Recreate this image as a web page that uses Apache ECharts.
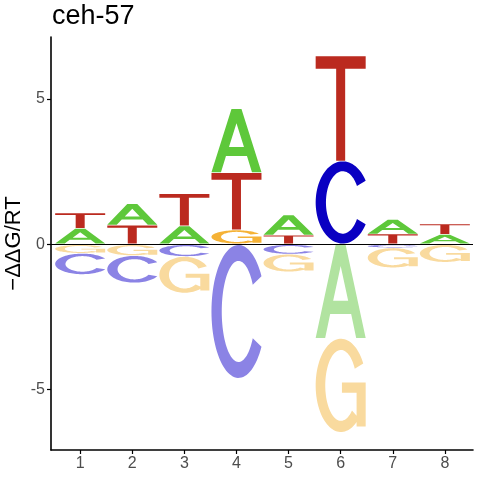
<!DOCTYPE html>
<html><head><meta charset="utf-8">
<script src="https://cdn.jsdelivr.net/npm/echarts@6/dist/echarts.min.js"></script>
<style>html,body{margin:0;padding:0;background:#fff}#c{width:480px;height:480px}</style>
</head><body><div id="c"></div>
<script>
// ---- data (letter heights, signed: + above zero, - below) ----
const positions = [1, 2, 3, 4, 5, 6, 7, 8];
const letters = ['A', 'C', 'G', 'T'];
const valA = [0.53, 0.735, 0.62, 2.20, 0.70, -3.23, 0.50, 0.33];
const valC = [-0.73, -0.94, -0.41, -4.60, -0.33, 2.85, -0.11, 0];
const valG = [-0.30, -0.38, -1.26, 0.48, -0.61, -3.23, -0.69, -0.61];
const valT = [0.535, 0.645, 1.11, 1.97, 0.30, 3.62, 0.34, 0.36];
const yTicks = [-5, 0, 5];
const xTicks = [1, 2, 3, 4, 5, 6, 7, 8];
const titleText = 'ceh-57';
const yName = '\u2212\u0394\u0394G/RT';

// ---- styling ----
const posColors = { A: '#5EC83A', C: '#0A00C2', G: '#F5B236', T: '#BB2A1F' };
const negColors = { A: '#B1E3A0', C: '#8B83E5', G: '#F9DA9E', T: '#E3A9A5' };

// glyph outlines in a 100x100 box
function arcPts(cx, cy, rx, ry, a0, a1, n) {
  const pts = [];
  for (let i = 0; i <= n; i++) {
    const a = (a0 + (a1 - a0) * i / n) * Math.PI / 180;
    pts.push([cx + rx * Math.cos(a), cy - ry * Math.sin(a)]);
  }
  return pts;
}
function ring(a0, a1) {
  const outer = arcPts(50, 50, 50, 50, a0, a1, 80);
  const inner = arcPts(50, 50, 31, 38, a1, a0, 80);
  const all = outer.concat(inner);
  return 'M' + all.map(p => p[0].toFixed(2) + ' ' + p[1].toFixed(2)).join(' L') + ' Z';
}
function rectCCW(x1, y1, x2, y2) {
  return `M${x1} ${y1} L${x1} ${y2} L${x2} ${y2} L${x2} ${y1} Z`;
}
const GLYPHS = {
  A: 'M0 100 L40 0 L60 0 L100 100 L81 100 L71 74 L29 74 L19 100 Z M35 60 L65 60 L50 22.5 Z',
  T: 'M0 0 L100 0 L100 12 L59 12 L59 100 L41 100 L41 12 L0 12 Z',
  C: ring(32, 328),
  G: ring(28, 315) + ' ' + rectCCW(52, 47, 99, 58) + ' ' + rectCCW(81, 47, 99, 94)
};

// build stacked items
const series = { A: valA, C: valC, G: valG, T: valT };
const items = [];
positions.forEach((p, i) => {
  const pos = [], neg = [];
  letters.forEach((L) => {
    const v = series[L][i];
    if (v > 0) pos.push([L, v]);
    else if (v < 0) neg.push([L, v]);
  });
  pos.sort((a, b) => a[1] - b[1]);
  neg.sort((a, b) => b[1] - a[1]);
  let base = 0;
  pos.forEach(([L, v]) => { items.push([p, base, base + v, letters.indexOf(L), 0]); base += v; });
  base = 0;
  neg.forEach(([L, v]) => { items.push([p, base, base + v, letters.indexOf(L), 1]); base += v; });
});

const chart = echarts.init(document.getElementById('c'), null, { renderer: 'canvas' });
const FONT = 'Liberation Sans, Arial, sans-serif';
chart.setOption({
  animation: false,
  backgroundColor: '#fff',
  title: {
    text: titleText, left: 52, top: 3, padding: 0,
    textStyle: { fontSize: 27, fontWeight: 'normal', color: '#000', fontFamily: FONT }
  },
  grid: { left: 51, right: 7, top: 37, bottom: 30, containLabel: false, outerBoundsMode: 'none' },
  xAxis: {
    type: 'value', min: 0.44, max: 8.54,
    axisLine: { show: true, onZero: false, lineStyle: { color: '#000', width: 1.6 } },
    axisTick: { show: true, length: 4, customValues: xTicks, lineStyle: { color: '#000', width: 1.2 } },
    axisLabel: { customValues: xTicks, fontSize: 16, color: '#4D4D4D', margin: 6, fontFamily: FONT },
    splitLine: { show: false }
  },
  yAxis: {
    type: 'value', min: -7.08, max: 7.13,
    name: yName, nameLocation: 'middle', nameGap: 26, nameRotate: 90, nameMoveOverlap: false,
    nameTextStyle: { fontSize: 22, color: '#000', fontFamily: FONT },
    axisLine: { show: true, onZero: false, lineStyle: { color: '#000', width: 1.6 } },
    axisTick: { show: true, length: 4, customValues: yTicks, lineStyle: { color: '#000', width: 1.2 } },
    axisLabel: { customValues: yTicks, fontSize: 16, color: '#4D4D4D', margin: 6, fontFamily: FONT },
    splitLine: { show: false }
  },
  series: [{
    type: 'custom',
    data: items,
    encode: { x: 0, y: [1, 2] },
    clip: false,
    renderItem: function (params, api) {
      const x = api.value(0), y0 = api.value(1), y1 = api.value(2);
      const L = letters[api.value(3)];
      const neg = api.value(4) === 1;
      const pA = api.coord([x - 0.48, Math.max(y0, y1)]);
      const pB = api.coord([x + 0.48, Math.min(y0, y1)]);
      let top = pA[1], h = pB[1] - pA[1];
      if (neg) { top += 0.7; h -= 0.7; } else { h -= 0.7; }
      if (h < 0.6) return null;
      return {
        type: 'path',
        shape: { pathData: GLYPHS[L], x: pA[0], y: top, width: pB[0] - pA[0], height: h, layout: 'cover' },
        style: { fill: neg ? negColors[L] : posColors[L] }
      };
    },
    markLine: {
      silent: true, symbol: 'none', label: { show: false }, animation: false,
      lineStyle: { color: '#000', width: 1.2, type: 'solid' },
      data: [{ yAxis: 0 }]
    },
    z: 2
  }]
});
</script>
</body></html>
